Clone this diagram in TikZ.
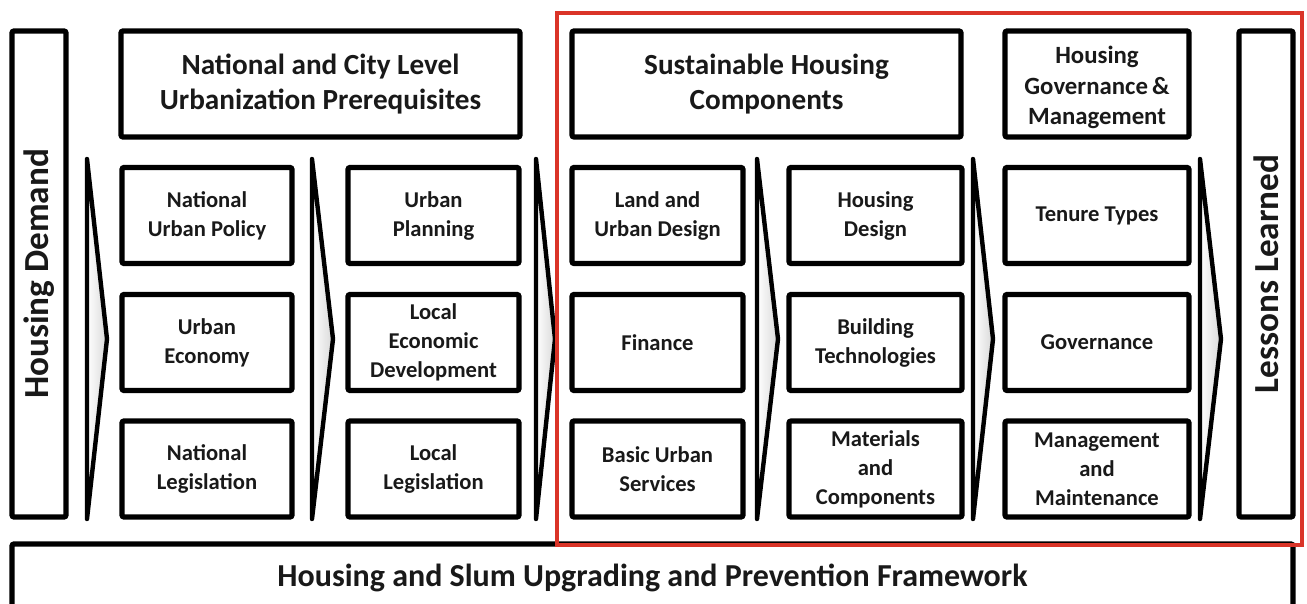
\documentclass[tikz,border=0pt]{standalone}
\usepackage{fontspec}
\setmainfont{Carlito}
\usetikzlibrary{positioning}
\definecolor{frameRed}{RGB}{218,52,40}
\tikzset{box/.style={draw,line width=2.6pt,rounded corners=1pt,align=center,inner sep=0pt,fill=white,
    text=black!90,font=\bfseries\fontsize{11.3}{14.5}\selectfont},
  item/.style={box,minimum height=48pt},
  head/.style={box,minimum height=53pt,font=\bfseries\fontsize{14.6}{17.5}\selectfont},
  side/.style={box,rotate=90,minimum width=243pt,minimum height=27pt,font=\bfseries\fontsize{17.6}{20}\selectfont},
  chev/.style={line width=2.2pt,line join=round,left color=white,right color=gray!30}}

\begin{document}
\begin{tikzpicture}[x=0.5pt,y=-0.5pt]
\useasboundingbox (0,0) rectangle (1307,604);
\clip (0,0) rectangle (1307,604);
% outer bars
\node[side] (demand) at (39,274) {Housing Demand};
\node[side] (lessons) at (1266,274) {Lessons Learned};
\node[box,minimum width=640.5pt,minimum height=34pt,font=\bfseries\fontsize{16}{18}\selectfont] (framework)
  at (652.5,578) {Housing and Slum Upgrading and Prevention Framework};
% column headings
\node[head,minimum width=199.5pt] (prereq) at (320.5,84) {National and City Level\\Urbanization Prerequisites};
\node[head,minimum width=194.5pt] (components) at (766.5,84) {Sustainable Housing\\Components};
\node[head,minimum width=92pt] (govmgmt) at (1097,84) {};
\node[align=center,inner sep=0pt,text=black!90,font=\bfseries\fontsize{12.4}{15.3}\selectfont] (govmgmttext)
  at ([yshift=-1.8pt]govmgmt.center) {Housing\\Governance\,\&\\Management};
% national and city level
\node[item,minimum width=85pt] (natpolicy) at (207,215.5) {National\\Urban Policy};
\node[item,minimum width=85pt] (urbeconomy) at (207,342.5) {Urban\\Economy};
\node[item,minimum width=85pt] (natlegis) at (207,469) {National\\Legislation};
\node[item,minimum width=85.5pt] (urbplanning) at (433.5,215.5) {Urban\\Planning};
\node[item,minimum width=85.5pt] (localecon) at (433.5,342.5) {Local\\Economic\\Development};
\node[item,minimum width=85.5pt] (locallegis) at (433.5,469) {Local\\Legislation};
% housing components
\node[item,minimum width=85.5pt] (landdesign) at (657.5,215.5) {Land and\\Urban Design};
\node[item,minimum width=85.5pt] (finance) at (657.5,342.5) {Finance};
\node[item,minimum width=85.5pt] (basicserv) at (657.5,469) {Basic Urban\\Services};
\node[item,minimum width=86.5pt] (housdesign) at (875.5,215.5) {Housing\\Design};
\node[item,minimum width=86.5pt] (buildtech) at (875.5,342.5) {Building\\Technologies};
\node[item,minimum width=86.5pt] (materials) at (875.5,469) {Materials\\and\\Components};
% governance and management
\node[item,minimum width=92pt] (tenure) at (1097,215.5) {Tenure Types};
\node[item,minimum width=92pt] (governance) at (1097,342.5) {Governance};
\node[item,minimum width=92pt] (mgmt) at (1097,469) {Management\\and\\Maintenance};
% chevrons between the columns
\foreach \cx/\tx in {87/107,312/333,536/555,757/778,973/993,1200/1221}
  \draw[chev] (\cx,159) -- (\tx,339) -- (\cx,519) -- cycle;
% highlighted part
\draw[frameRed,line width=2.3pt] (557,13) rectangle (1302,545);
\end{tikzpicture}
\end{document}
